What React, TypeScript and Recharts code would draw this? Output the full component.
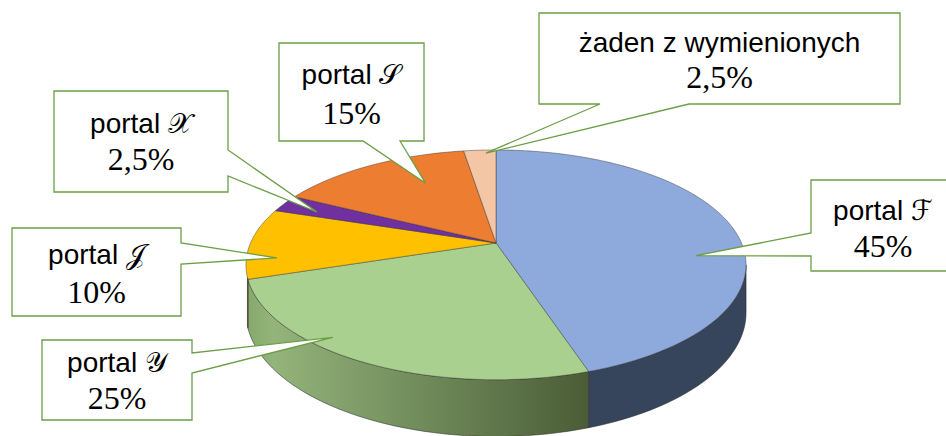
import React from "react";
import { PieChart, Pie } from "recharts";

// values
const prefixes = ["portal ", "portal ", "portal ", "portal ", "portal ", "żaden z wymienionych"];
const scripts = ["\u2131", "\u{1D4B4}", "\u{1D4A5}", "\u{1D4B3}", "\u{1D4AE}", ""];
const shares = [45, 25, 10, 2.5, 15, 2.5];
const shareLabels = ["45%", "25%", "10%", "2,5%", "15%", "2,5%"];
const topColors = ["#8EA9DB", "#A9D08E", "#FFC000", "#7030A0", "#ED7D31", "#F4C6A6"];
const sideColors = ["#37455C", "url(#greenSide)", "#BF9000", "#4B2070", "#B25E24", "#C29A80"];

const data = shares.map((v, i) => ({ name: prefixes[i] + scripts[i], value: v }));

// callout boxes: rect [x0, y0, x1, y1], pointer edge + base, tip relative to slice, text
const callouts = [
  { box: [811, 180, 955, 271], edge: "left", base: [233, 256], dAngle: -17, r: 0.805, tx: 883, ty: [220, 257] },
  { box: [42, 340, 192, 420], edge: "right", base: [353, 373], dAngle: -11, r: 0.93, tx: 117, ty: [372, 409] },
  { box: [12, 228, 181, 316], edge: "right", base: [243, 264], dAngle: 8.6, r: 0.88, tx: 96.5, ty: [264, 303] },
  { box: [54, 91, 228, 192], edge: "right", base: [150, 176], dAngle: 1.5, r: 0.825, tx: 141, ty: [133, 170] },
  { box: [279, 43, 424, 141], edge: "bottom", base: [363, 400], dAngle: -8, r: 0.68, tx: 351.5, ty: [84, 124] },
  { box: [539, 13, 900, 104], edge: "bottom", base: [600, 689], dAngle: -1.6, r: 0.96, tx: 719.5, ty: [52, 88] },
];

// fake 3d: perspective tilt of the pie disc
const TILT_A = 0.982;
const TILT_B = 0.443;
const PERSP = 0.19;
const DEPTH = 0.184;
const FRONT_HI = -(Math.asin(PERSP) * 180) / Math.PI;
const FRONT_LO = -163; // left wall starts at the yellow/green edge, like the original

function project(cx: number, cy: number, R: number, deg: number, f = 1, drop = 0) {
  const t = (deg * Math.PI) / 180;
  const X = f * Math.cos(t);
  const Y = f * Math.sin(t);
  const w = 1 + PERSP * Y;
  return [cx + (R * TILT_A * X) / w, cy - (R * TILT_B * Y) / w + (R * DEPTH * drop) / w];
}

function arc(cx: number, cy: number, R: number, a0: number, a1: number, drop: number) {
  const n = Math.max(2, Math.ceil(Math.abs(a1 - a0) / 2));
  const pts: string[] = [];
  for (let i = 0; i <= n; i++) {
    const [x, y] = project(cx, cy, R, a0 + ((a1 - a0) * i) / n, 1, drop);
    pts.push(`${x.toFixed(2)},${y.toFixed(2)}`);
  }
  return pts;
}

const renderSlice = (props: any) => {
  const { cx, cy, outerRadius, startAngle, endAngle, index } = props;
  const top = `M${cx},${cy} L${arc(cx, cy, outerRadius, startAngle, endAngle, 0).join(" L")} Z`;
  const hi = Math.min(startAngle, FRONT_HI);
  const lo = Math.max(endAngle, FRONT_LO);
  let side = null;
  if (hi > lo) {
    const d =
      "M" + arc(cx, cy, outerRadius, hi, lo, 0).join(" L") + " L" + arc(cx, cy, outerRadius, lo, hi, 1).join(" L") + " Z";
    side = <path d={d} fill={sideColors[index]} stroke="#2b2b2b" strokeOpacity={0.7} strokeWidth={0.8} />;
  }
  return (
    <g>
      {index === 1 && (
        <defs>
          <linearGradient id="greenSide" gradientUnits="userSpaceOnUse" x1={246} y1={0} x2={590} y2={0}>
            <stop offset="0" stopColor="#86A86C" />
            <stop offset="0.08" stopColor="#93B47B" />
            <stop offset="1" stopColor="#4A5C36" />
          </linearGradient>
        </defs>
      )}
      {side}
      <path d={top} fill={topColors[index]} stroke="#2b2b2b" strokeOpacity={0.6} strokeWidth={0.7} />
    </g>
  );
};

const renderCallout = (props: any) => {
  const { cx, cy, outerRadius, startAngle, endAngle, index } = props;
  const c = callouts[index];
  const mid = (startAngle + endAngle) / 2;
  const [tx, ty] = project(cx, cy, outerRadius, mid + c.dAngle, c.r);
  const [x0, y0, x1, y1] = c.box;
  const [b0, b1] = c.base;
  let d = "";
  if (c.edge === "bottom") {
    d = `M${x0},${y0} H${x1} V${y1} H${b1} L${tx},${ty} L${b0},${y1} H${x0} Z`;
  } else if (c.edge === "right") {
    d = `M${x0},${y0} H${x1} V${b0} L${tx},${ty} L${x1},${b1} V${y1} H${x0} Z`;
  } else {
    d = `M${x0},${y0} H${x1} V${y1} H${x0} V${b1} L${tx},${ty} L${x0},${b0} Z`;
  }
  return (
    <g>
      <path d={d} fill="#fff" stroke="#6B9E45" strokeWidth={1.3} />
      <text x={c.tx} y={c.ty[0]} textAnchor="middle" fontSize={28} fill="#000" fontFamily="'Liberation Sans', Arial, sans-serif">
        {prefixes[index]}
        {scripts[index] && <tspan fontFamily="'DejaVu Serif', 'DejaVu Sans', serif">{scripts[index]}</tspan>}
      </text>
      <text x={c.tx} y={c.ty[1]} textAnchor="middle" fontSize={32} fill="#000" fontFamily="'Liberation Serif', 'Times New Roman', serif">
        {shareLabels[index]}
      </text>
    </g>
  );
};

export default function App() {
  return (
    <div style={{ position: "absolute", left: 0, top: 0, width: 946, height: 436, background: "#fff" }}>
      <PieChart width={946} height={436} margin={{ top: 0, right: 0, bottom: 0, left: 0 }}>
        <Pie
          data={data}
          dataKey="value"
          nameKey="name"
          cx={496}
          cy={243}
          outerRadius={250}
          startAngle={90}
          endAngle={-270}
          fill="none"
          stroke="none"
          label={renderSlice}
          labelLine={false}
          isAnimationActive={false}
        />
        <Pie
          data={data}
          dataKey="value"
          nameKey="name"
          cx={496}
          cy={243}
          outerRadius={250}
          startAngle={90}
          endAngle={-270}
          fill="none"
          stroke="none"
          label={renderCallout}
          labelLine={false}
          isAnimationActive={false}
        />
      </PieChart>
    </div>
  );
}
